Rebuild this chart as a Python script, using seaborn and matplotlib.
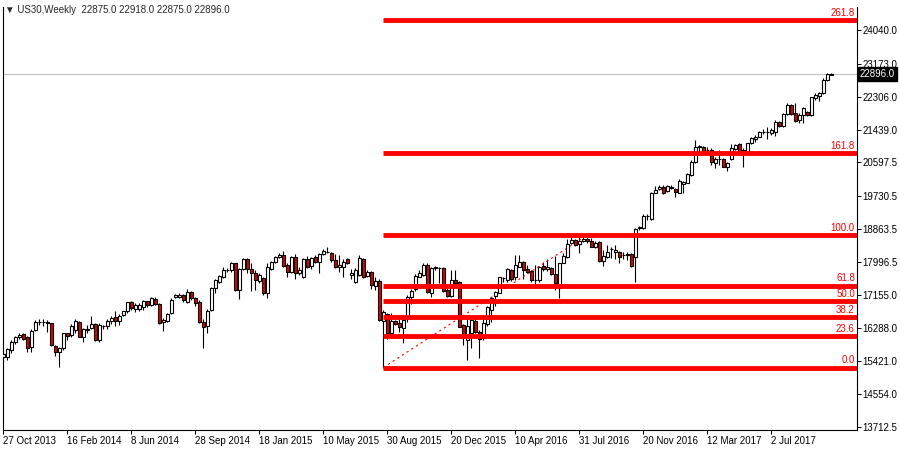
import numpy as np
import pandas as pd
import matplotlib
matplotlib.use("Agg")
import matplotlib.pyplot as plt
import matplotlib.transforms as mtransforms
import seaborn as sns

# weekly bars of US30 (first bar = week of 27 Oct 2013)
opens = [
    15540, 15540, 15710, 15930, 16040, 16120, 16040, 15780, 16230, 16430, 16440, 16430, 16405,
    15815, 15650, 15755, 16145, 16100, 16230, 16440, 16060, 16230, 16275, 16390, 15970, 16335,
    16335, 16455, 16560, 16475, 16615, 16720, 16960, 16770, 16780, 16840, 16980, 16890, 17040,
    16900, 16440, 16475, 16685, 17085, 17100, 17135, 16970, 17215, 17055, 16960, 16450, 16335,
    16752, 17316, 17490, 17620, 17794, 17794, 17968, 17273, 17811, 18089, 17811, 17725, 17516,
    17577, 17204, 17811, 18011, 18141, 18185, 17924, 17751, 18124, 17725, 17603, 18072, 17898,
    18124, 18011, 18211, 18263, 18246, 18055, 17863, 17863, 18072, 17664, 17490, 17664, 18072,
    17638, 17751, 17377, 17516, 16474, 16648, 16144, 16474, 16422, 16274, 16535, 17090, 17300,
    17620, 17664, 17925, 17204, 17850, 17850, 17838, 17274, 17117, 17534, 17491, 16362, 15971,
    16145, 16475, 16188, 16015, 16388, 16753, 17117, 17204, 17577, 17534, 17795, 17604, 17881,
    18012, 17812, 17777, 17534, 17534, 17899, 17812, 17838, 17690, 17317, 17986, 18124, 18507,
    18576, 18472, 18559, 18593, 18559, 18402, 18533, 18038, 18142, 18330, 18272, 18272, 18185,
    18203, 18203, 18125, 18880, 18880, 19200, 19115, 19809, 19896, 19948, 19861, 19965, 19913,
    19809, 20035, 20070, 20270, 20617, 20990, 20990, 20921, 20921, 20591, 20677, 20677, 20469,
    20677, 20938, 21077, 20921, 20903, 21094, 21198, 21268, 21398, 21398, 21372, 21398, 21659,
    21546, 21858, 22093, 21876, 21702, 21832, 21919, 21832, 22266, 22327, 22397, 22744, 22875,
]
highs = [
    15710, 15765, 15970, 16075, 16160, 16145, 16075, 16250, 16490, 16510, 16510, 16490, 16425,
    15840, 15780, 16160, 16160, 16390, 16510, 16455, 16275, 16360, 16595, 16405, 16405, 16370,
    16510, 16595, 16725, 16650, 16735, 16970, 16985, 16925, 16925, 17015, 16995, 17100, 17085,
    16925, 16535, 16685, 17055, 17170, 17185, 17160, 17290, 17250, 17100, 17015, 16510, 16770,
    17343, 17551, 17664, 17881, 17837, 17994, 17985, 17837, 18098, 18107, 17968, 17794, 17725,
    17620, 17985, 18037, 18159, 18228, 18298, 17968, 18159, 18211, 17881, 18098, 18159, 18124,
    18185, 18228, 18332, 18402, 18272, 18211, 18185, 18072, 18098, 17811, 17837, 18185, 18098,
    17794, 17777, 17620, 17551, 16752, 16683, 16665, 16492, 16535, 16535, 17143, 17290, 17690,
    17800, 17986, 17968, 17881, 17899, 17881, 17881, 17317, 17795, 17795, 17517, 16388, 16536,
    16536, 16536, 16232, 16536, 16857, 17083, 17256, 17621, 17621, 17838, 17812, 18185, 18185,
    18038, 17925, 17795, 17925, 17899, 18012, 18072, 17881, 18159, 17986, 18229, 18593, 18645,
    18593, 18645, 18645, 18645, 18619, 18559, 18559, 18316, 18446, 18402, 18446, 18298, 18272,
    18272, 18229, 18880, 18941, 19253, 19253, 19835, 19983, 20009, 20009, 20009, 20000, 19939,
    20174, 20122, 20330, 20660, 21180, 21060, 21025, 20990, 20964, 20747, 20921, 20704, 20617,
    21077, 21077, 21094, 20964, 21112, 21251, 21311, 21424, 21459, 21528, 21485, 21702, 21685,
    21876, 22136, 22119, 22136, 21876, 22049, 21945, 22310, 22397, 22440, 22787, 22935, 22918,
]
lows = [
    15485, 15450, 15625, 15865, 16005, 15970, 15665, 15665, 16215, 16360, 16335, 16190, 15815,
    15555, 15275, 15710, 15970, 16060, 16165, 16040, 15930, 16145, 16250, 15945, 15930, 16265,
    16250, 16400, 16335, 16360, 16595, 16665, 16755, 16710, 16735, 16755, 16840, 16855, 16875,
    16390, 16215, 16450, 16650, 17055, 17055, 16970, 16925, 17015, 16855, 16420, 15770, 16165,
    16735, 17204, 17447, 17577, 17751, 17751, 17256, 17039, 17794, 17725, 17256, 17273, 17447,
    17143, 17056, 17794, 17968, 18098, 17863, 17620, 17707, 17551, 17664, 17577, 17837, 17811,
    17968, 17725, 18176, 18228, 18011, 17837, 17751, 17620, 17942, 17551, 17464, 17638, 17577,
    17603, 17290, 17273, 16474, 15254, 15988, 16075, 16361, 16188, 15901, 16448, 16910, 17250,
    17600, 17638, 17204, 17100, 17795, 17447, 17230, 17100, 17100, 17404, 16301, 15841, 15450,
    15754, 16145, 15494, 15971, 16336, 16449, 16857, 17187, 17491, 17491, 17517, 17534, 17860,
    17551, 17725, 17491, 17317, 17491, 17777, 17777, 17664, 17274, 17056, 17968, 18098, 18472,
    18420, 18246, 18533, 18507, 18385, 18359, 18012, 17899, 18098, 18098, 18072, 17968, 18073,
    18055, 17882, 17491, 18837, 18854, 19097, 19097, 19792, 19879, 19774, 19835, 19896, 19688,
    19792, 19792, 20052, 20250, 20590, 20880, 20877, 20851, 20530, 20443, 20530, 20469, 20382,
    20660, 20921, 20851, 20486, 20877, 21077, 21138, 21251, 21337, 21198, 21311, 21285, 21528,
    21511, 21832, 21832, 21659, 21615, 21633, 21806, 21806, 22223, 22206, 22379, 22727, 22875,
]
closes = [
    15605, 15730, 15930, 16040, 16100, 16000, 15755, 16215, 16450, 16440, 16430, 16425, 15830,
    15665, 15755, 16145, 16085, 16345, 16465, 16060, 16250, 16265, 16390, 15970, 16355, 16345,
    16475, 16545, 16475, 16595, 16720, 16950, 16795, 16885, 16885, 16980, 16875, 17055, 16910,
    16425, 16490, 16650, 17015, 17135, 17145, 17015, 17215, 17055, 16925, 16450, 16320, 16735,
    17316, 17534, 17638, 17794, 17800, 17968, 17273, 17811, 18072, 17811, 17725, 17534, 17664,
    17186, 17863, 18011, 18141, 18185, 17898, 17751, 18124, 17725, 17794, 18072, 17863, 18098,
    18011, 18211, 18298, 18270, 18055, 17863, 17924, 18011, 17968, 17725, 17794, 18098, 17620,
    17751, 17403, 17516, 16492, 16709, 16144, 16474, 16387, 16301, 16492, 17099, 17250, 17640,
    17710, 17925, 17230, 17838, 17860, 17855, 17256, 17117, 17534, 17447, 16318, 16101, 16336,
    16492, 16188, 15988, 16405, 16839, 17056, 17230, 17604, 17585, 17812, 17551, 17925, 18012,
    17795, 17751, 17534, 17540, 17881, 17812, 17881, 17690, 17447, 17968, 18159, 18472, 18576,
    18446, 18559, 18593, 18559, 18402, 18507, 18038, 18159, 18272, 18335, 18316, 18142, 18190,
    18195, 17899, 18854, 18923, 19201, 19205, 19809, 19879, 19948, 19809, 19983, 19922, 19835,
    20122, 20087, 20295, 20617, 20990, 21025, 20903, 20925, 20617, 20677, 20680, 20486, 20573,
    20964, 21051, 20877, 20903, 21094, 21224, 21251, 21398, 21400, 21402, 21442, 21659, 21546,
    21858, 22093, 21858, 21685, 21832, 22006, 21832, 22292, 22353, 22414, 22744, 22900, 22896,
]

# fibonacci retracement drawn from the Aug 2015 low to the Jul 2016 high
fib_levels = [0.0, 23.6, 38.2, 50.0, 61.8, 100.0, 161.8, 261.8]
fib_low, fib_high = 15254.0, 18707.0
fib_start, fib_end = 95, 146

last_price = 22896.0
price_ticks = [24040.0, 23173.0, 22306.0, 21439.0, 20597.5, 19730.5, 18863.5,
               17996.5, 17155.0, 16288.0, 15421.0, 14554.0, 13712.5]
date_labels = ["27 Oct 2013", "16 Feb 2014", "8 Jun 2014", "28 Sep 2014", "18 Jan 2015",
               "10 May 2015", "30 Aug 2015", "20 Dec 2015", "10 Apr 2016", "31 Jul 2016",
               "20 Nov 2016", "12 Mar 2017", "2 Jul 2017"]
header = "\u25bc US30,Weekly  22875.0 22918.0 22875.0 22896.0"

df = pd.DataFrame({"open": opens, "high": highs, "low": lows, "close": closes})
df["date"] = pd.date_range("2013-10-27", periods=len(df), freq="W-SUN")
df["bar"] = np.arange(len(df))
df["up"] = df["close"] >= df["open"]

sns.set_theme(style="white")
plt.rcParams["font.family"] = ["Liberation Sans", "DejaVu Sans"]
fs = 7

fig = plt.figure(figsize=(9, 4.5), dpi=100)
ax = fig.add_axes([3 / 900, 20 / 450, 854 / 900, 423 / 450])
ax.set_facecolor("white")

x_right = 213.4
ax.set_xlim(-0.075, x_right)
ax.set_ylim(13626.5, 24645.6)

# current price line
ax.axhline(last_price, color="#c0c0c0", lw=0.8, zorder=1)

# candles: wicks then bodies
ax.vlines(df["bar"], df["low"], df["high"], color="black", lw=0.8, zorder=2)
body = (df["close"] - df["open"]).abs().clip(lower=4)
bottom = df[["open", "close"]].min(axis=1)
ax.bar(df["bar"], body, bottom=bottom, width=0.7,
       color=np.where(df["up"], "white", "#e00000"),
       edgecolor="black", linewidth=0.8, zorder=3)

# fibo levels
blend = mtransforms.blended_transform_factory(ax.transAxes, ax.transData)
for lvl in fib_levels:
    p = fib_low + (fib_high - fib_low) * lvl / 100
    ax.hlines(p, fib_start - 0.2, x_right, color="#ff0000", lw=3.5, zorder=4)
    ax.annotate(f"{lvl:.1f}", xy=(1, p), xycoords=blend, xytext=(-1.5, 1.7),
                textcoords="offset points", ha="right", va="bottom",
                color="#ff0000", fontsize=fs, zorder=5)
ax.plot([fib_start, fib_end], [fib_low, fib_high], color="#ff0000", lw=0.8,
        ls=(0, (2, 3)), zorder=2.5)

# axes look like the terminal
for side in ["left", "bottom", "right"]:
    ax.spines[side].set_visible(True)
    ax.spines[side].set_color("black")
    ax.spines[side].set_linewidth(0.8)
ax.spines["top"].set_visible(False)

ax.yaxis.tick_right()
ax.set_yticks(price_ticks)
ax.set_yticklabels([f"{v:.1f}" for v in price_ticks])
ax.tick_params(axis="y", direction="out", length=3, width=0.7, pad=0.8,
               labelsize=fs, colors="black")

tick_pos = df.set_index("date").loc[pd.to_datetime(date_labels, format="%d %b %Y"), "bar"]
ax.set_xticks(tick_pos.values)
ax.set_xticklabels(date_labels)
ax.tick_params(axis="x", direction="out", length=3, width=0.7, pad=1.5,
               labelsize=fs, colors="black", bottom=True)
for lab in ax.get_xticklabels():
    lab.set_ha("left")
ax.grid(False)

ax.text(1.003, last_price, f"{last_price:.1f}", transform=blend, color="white",
        fontsize=fs, ha="left", va="center", clip_on=False, zorder=6,
        bbox=dict(boxstyle="square,pad=0.2", fc="black", ec="black"))

fig.text(5 / 900, 1 - 10 / 450, header, fontsize=fs, ha="left", va="center")

fig.savefig("out.png", dpi=100)
